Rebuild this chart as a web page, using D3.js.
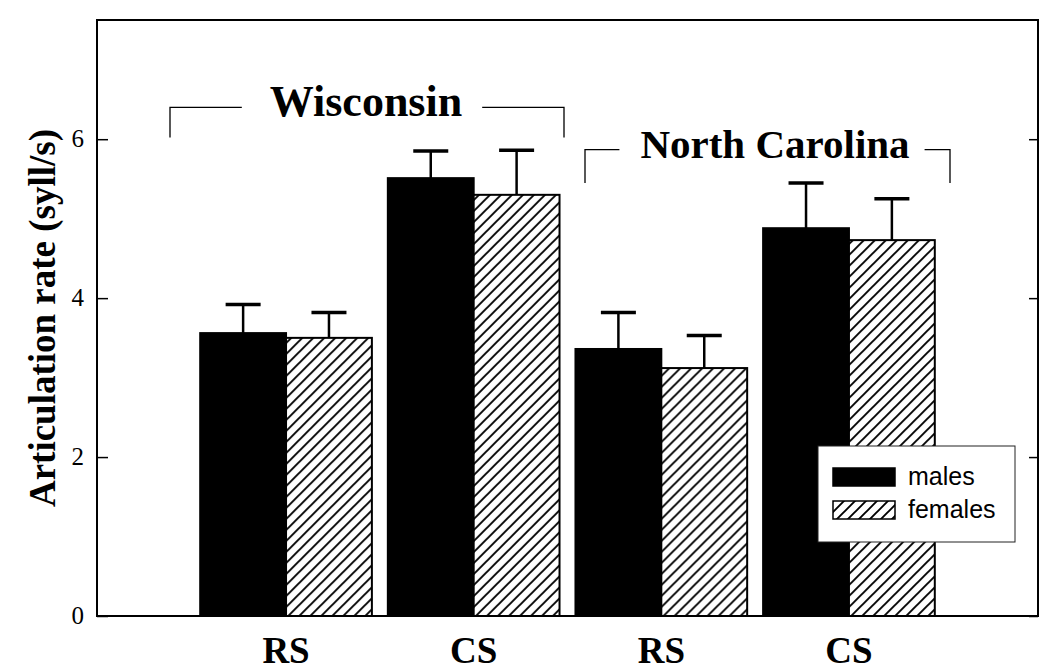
<!DOCTYPE html>
<html>
<head>
<meta charset="utf-8">
<script src="https://cdn.jsdelivr.net/npm/d3@7"></script>
<style>
  body { margin: 0; background: #fff; }
  svg { display: block; }
  .serif { font-family: "Liberation Serif", "Times New Roman", serif; }
  .sans { font-family: "Liberation Sans", Arial, sans-serif; }
</style>
</head>
<body>
<svg id="chart" width="1050" height="672"></svg>
<script>
// data
const groups = ["WI-RS", "WI-CS", "NC-RS", "NC-CS"];
const groupLabels = ["RS", "CS", "RS", "CS"];
const series = ["males", "females"];
const males = [3.56, 5.51, 3.36, 4.88];
const malesErr = [0.36, 0.34, 0.46, 0.57];
const females = [3.50, 5.30, 3.12, 4.73];
const femalesErr = [0.32, 0.56, 0.41, 0.52];
const yTicks = [0, 2, 4, 6];

const margin = { top: 20, right: 12, bottom: 56, left: 97 };
const width = 1050, height = 672;

const svg = d3.select("#chart");

const x = d3.scaleBand()
    .domain(groups)
    .range([margin.left, width - margin.right])
    .paddingInner(0.085)
    .paddingOuter(0.55);

const xSub = d3.scaleBand()
    .domain(series)
    .range([0, x.bandwidth()]);

const y = d3.scaleLinear()
    .domain([0, 7.5])
    .range([height - margin.bottom, margin.top]);

// hatch pattern for females
const defs = svg.append("defs");
const hatch = defs.append("pattern")
    .attr("id", "hatch")
    .attr("patternUnits", "userSpaceOnUse")
    .attr("width", 11)
    .attr("height", 11);
hatch.append("rect").attr("width", 11).attr("height", 11).attr("fill", "#fff");
hatch.append("path")
    .attr("d", "M-2,2 L2,-2 M0,11 L11,0 M9,13 L13,9")
    .attr("stroke", "#000")
    .attr("stroke-width", 1.9);

const rows = groups.map((g, i) => ({
    group: g,
    values: [
        { key: "males", value: males[i], err: malesErr[i] },
        { key: "females", value: females[i], err: femalesErr[i] }
    ]
}));

const fillFor = k => k === "males" ? "#000" : "url(#hatch)";

// bars
const gGroups = svg.selectAll(".grp").data(rows).join("g")
    .classed("grp", true)
    .attr("transform", d => `translate(${x(d.group)},0)`);

gGroups.selectAll(".bar").data(d => d.values).join("rect")
    .classed("bar", true)
    .attr("x", d => xSub(d.key))
    .attr("width", xSub.bandwidth())
    .attr("y", d => y(d.value))
    .attr("height", d => y(0) - y(d.value))
    .attr("fill", d => fillFor(d.key))
    .attr("stroke", "#000")
    .attr("stroke-width", 2);

// error bars (upper only)
const capW = 35;
gGroups.selectAll(".err").data(d => d.values).join("line")
    .classed("err", true)
    .attr("x1", d => xSub(d.key) + xSub.bandwidth() / 2)
    .attr("x2", d => xSub(d.key) + xSub.bandwidth() / 2)
    .attr("y1", d => y(d.value))
    .attr("y2", d => y(d.value + d.err))
    .attr("stroke", "#000")
    .attr("stroke-width", 2.5);

gGroups.selectAll(".cap").data(d => d.values).join("line")
    .classed("cap", true)
    .attr("x1", d => xSub(d.key) + xSub.bandwidth() / 2 - capW / 2)
    .attr("x2", d => xSub(d.key) + xSub.bandwidth() / 2 + capW / 2)
    .attr("y1", d => y(d.value + d.err))
    .attr("y2", d => y(d.value + d.err))
    .attr("stroke", "#000")
    .attr("stroke-width", 3.5);

// frame
svg.append("rect")
    .attr("x", margin.left)
    .attr("y", margin.top)
    .attr("width", width - margin.right - margin.left)
    .attr("height", y(0) - margin.top)
    .attr("fill", "none")
    .attr("stroke", "#000")
    .attr("stroke-width", 2);

// y axis, ticks inward on both sides
const yAxisL = d3.axisRight(y).tickValues(yTicks).tickSize(11).tickFormat("");
svg.append("g").attr("transform", `translate(${margin.left},0)`).call(yAxisL)
    .call(g => g.select(".domain").remove())
    .call(g => g.selectAll("line").attr("stroke-width", 1.5));

const yAxisR = d3.axisLeft(y).tickValues(yTicks).tickSize(9).tickFormat("");
svg.append("g").attr("transform", `translate(${width - margin.right},0)`).call(yAxisR)
    .call(g => g.select(".domain").remove())
    .call(g => g.selectAll("line").attr("stroke-width", 1.5));

svg.append("g").selectAll("text").data(yTicks).join("text")
    .attr("class", "serif")
    .attr("x", 84)
    .attr("y", d => y(d) + 8)
    .attr("text-anchor", "end")
    .attr("font-size", 25)
    .text(d => d);

// x labels
svg.append("g").selectAll("text").data(groups).join("text")
    .attr("class", "serif")
    .attr("x", d => x(d) + x.bandwidth() / 2)
    .attr("y", 663)
    .attr("text-anchor", "middle")
    .attr("font-size", 37)
    .attr("font-weight", "bold")
    .text((d, i) => groupLabels[i]);

// y label
svg.append("text")
    .attr("class", "serif")
    .attr("transform", `translate(55,318) rotate(-90)`)
    .attr("text-anchor", "middle")
    .attr("font-size", 37)
    .attr("font-weight", "bold")
    .text("Articulation rate (syll/s)");

// region brackets
const regions = [
    { name: "Wisconsin", left: 170, right: 564, level: 6.4, drop: 6.02, textMid: 366, gapL: 28, gapR: 20, size: 44 },
    { name: "North Carolina", left: 585, right: 950, level: 5.87, drop: 5.45, textMid: 775, gapL: 21, gapR: 15, size: 41 }
];

const br = svg.append("g").selectAll("g").data(regions).join("g");
br.append("text")
    .attr("class", "serif")
    .attr("x", d => d.textMid)
    .attr("y", d => y(d.level) + d.size * 0.2)
    .attr("text-anchor", "middle")
    .attr("font-size", d => d.size)
    .attr("font-weight", "bold")
    .text(d => d.name)
    .each(function (d) {
        const b = this.getBBox();
        d.tx0 = b.x; d.tx1 = b.x + b.width;
    });
br.append("path")
    .attr("d", d => `M${d.left},${y(d.drop)}V${y(d.level)}H${d.tx0 - d.gapL}`
        + `M${d.tx1 + d.gapR},${y(d.level)}H${d.right}V${y(d.drop)}`)
    .attr("fill", "none")
    .attr("stroke", "#000")
    .attr("stroke-width", 1.3);

// legend
const legend = svg.append("g").attr("transform", "translate(818,446)");
legend.append("rect")
    .attr("width", 197).attr("height", 96)
    .attr("fill", "#fff").attr("stroke", "#222").attr("stroke-width", 1);
const li = legend.selectAll(".li").data(series).join("g")
    .attr("transform", (d, i) => `translate(15,${22 + i * 33})`);
li.append("rect")
    .attr("width", 62).attr("height", 18)
    .attr("fill", d => fillFor(d))
    .attr("stroke", "#000").attr("stroke-width", 1.5);
li.append("text")
    .attr("class", "sans")
    .attr("x", 75).attr("y", 17)
    .attr("font-size", 25)
    .text(d => d);
</script>
</body>
</html>
